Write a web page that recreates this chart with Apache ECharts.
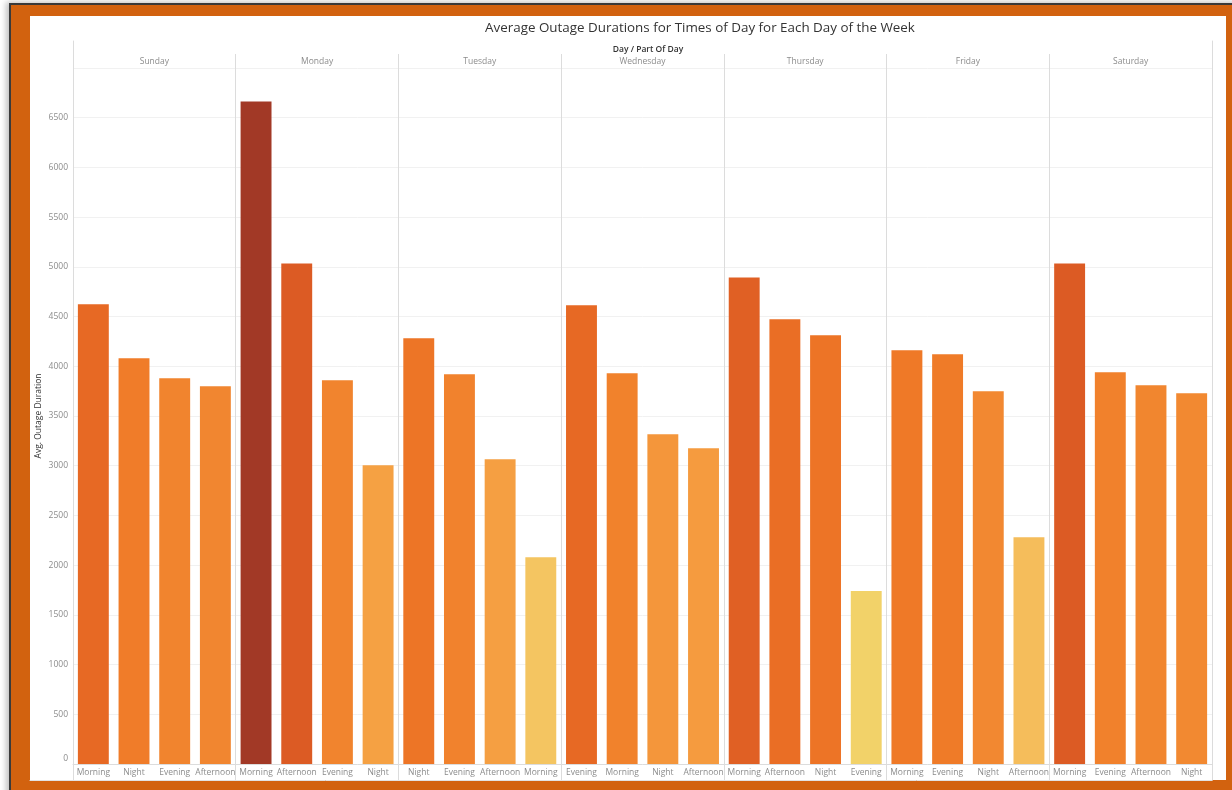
<!DOCTYPE html>
<html>
<head>
<meta charset="utf-8">
<script src="https://cdn.jsdelivr.net/npm/echarts@6/dist/echarts.min.js"></script>
<style>
  html, body { margin: 0; padding: 0; width: 1232px; height: 790px; overflow: hidden; background: #ffffff; }
  #frame { position: absolute; left: 9px; top: 3px; width: 1240px; height: 800px;
           background: #d2620f; border-top: 2px solid #3a3a3a; border-left: 2px solid #3a3a3a;
           box-shadow: -3px -1px 6px rgba(0,0,0,0.25); box-sizing: border-box; }
  #panel { position: absolute; left: 30px; top: 16px; width: 1196px; height: 764px; background: #ffffff; }
  #chart { position: absolute; left: 0; top: 0; width: 1232px; height: 790px; }
</style>
</head>
<body>
<div id="frame"></div>
<div id="panel"></div>
<div id="chart"></div>
<script>
// Days of the week (column panels)
const days = ['Sunday', 'Monday', 'Tuesday', 'Wednesday', 'Thursday', 'Friday', 'Saturday'];

// Parts of day inside each panel, sorted by average duration (descending)
const sundayParts    = ['Morning', 'Night', 'Evening', 'Afternoon'];
const mondayParts    = ['Morning', 'Afternoon', 'Evening', 'Night'];
const tuesdayParts   = ['Night', 'Evening', 'Afternoon', 'Morning'];
const wednesdayParts = ['Evening', 'Morning', 'Night', 'Afternoon'];
const thursdayParts  = ['Morning', 'Afternoon', 'Night', 'Evening'];
const fridayParts    = ['Morning', 'Evening', 'Night', 'Afternoon'];
const saturdayParts  = ['Morning', 'Evening', 'Afternoon', 'Night'];

// Average outage duration for each part of day
const sundayValues    = [4623, 4080, 3879, 3799];
const mondayValues    = [6663, 5035, 3859, 3005];
const tuesdayValues   = [4281, 3920, 3065, 2080];
const wednesdayValues = [4613, 3930, 3317, 3176];
const thursdayValues  = [4894, 4472, 4312, 1739];
const fridayValues    = [4161, 4121, 3749, 2281];
const saturdayValues  = [5035, 3940, 3809, 3729];

// Value axis ticks
const yMin = 0, yMax = 7000, yStep = 500;

const partsByDay  = [sundayParts, mondayParts, tuesdayParts, wednesdayParts, thursdayParts, fridayParts, saturdayParts];
const valuesByDay = [sundayValues, mondayValues, tuesdayValues, wednesdayValues, thursdayValues, fridayValues, saturdayValues];

const categories = [];
const barData = [];
partsByDay.forEach((parts, d) => {
  parts.forEach((p, i) => {
    categories.push(days[d] + '|' + p);
    barData.push(valuesByDay[d][i]);
  });
});

const FONT = '"Open Sans", "Noto Sans", sans-serif';
const LIGHT = '#8c8c8c';
const LINE = '#dcdcdc';

const chart = echarts.init(document.getElementById('chart'), null, { renderer: 'canvas' });

chart.setOption({
  animation: false,
  backgroundColor: 'transparent',
  title: [
    {
      text: 'Average Outage Durations for Times of Day for Each Day of the Week',
      left: 695, top: 17, textAlign: 'center',
      textStyle: { fontFamily: FONT, fontSize: 13.4, fontWeight: 500, color: '#333333' }
    },
    {
      text: 'Day / Part Of Day',
      left: 643, top: 40, textAlign: 'center',
      textStyle: { fontFamily: FONT, fontSize: 8.5, fontWeight: 600, color: '#333333' }
    }
  ],
  visualMap: {
    show: false,
    type: 'continuous',
    seriesIndex: 0,
    dimension: 1,
    min: 1700,
    max: 6700,
    inRange: {
      color: ['#f2d46a', '#f5c05e', '#f5ab4c', '#f59a3e', '#f28a32', '#ef7826',
              '#e56624', '#d85624', '#c84d25', '#b54326', '#a13826']
    }
  },
  grid: [
    // main plot
    { left: 73, right: 20, top: 68, bottom: 26 },
    // day panels with their dividers
    { left: 73, right: 20, top: 54, bottom: 10 },
    // outer frame of the table
    { left: 73, right: 20, top: 41, bottom: 10 },
    // header rule running across the whole panel
    { left: 30, right: 20, top: 68, bottom: 10 }
  ],
  xAxis: [
    {
      gridIndex: 0,
      type: 'category',
      data: categories,
      axisLine: { show: true, lineStyle: { color: LINE } },
      axisTick: { show: false },
      axisLabel: {
        interval: 0, margin: 4,
        fontFamily: FONT, fontSize: 8.5, color: LIGHT,
        formatter: v => v.split('|')[1]
      },
      splitLine: { show: false }
    },
    {
      gridIndex: 1,
      type: 'category',
      position: 'top',
      data: days,
      axisLine: { show: false },
      axisTick: { show: false },
      axisLabel: { inside: true, margin: 3, fontFamily: FONT, fontSize: 8.5, color: LIGHT },
      splitLine: { show: true, lineStyle: { color: LINE, width: 1 } }
    },
    {
      gridIndex: 2,
      type: 'category',
      data: days,
      show: false
    },
    {
      gridIndex: 3,
      type: 'value',
      position: 'top',
      axisLine: { show: true, lineStyle: { color: '#e2e2e2' } },
      axisTick: { show: false },
      axisLabel: { show: false },
      splitLine: { show: false }
    }
  ],
  yAxis: [
    {
      gridIndex: 0,
      type: 'value',
      min: yMin, max: yMax, interval: yStep,
      name: 'Avg. Outage Duration',
      nameLocation: 'middle',
      nameGap: 30,
      nameMoveOverlap: false,
      nameTextStyle: { fontFamily: FONT, fontSize: 8.5, color: '#333333' },
      axisLine: { show: false },
      axisTick: { show: false },
      axisLabel: {
        margin: 5, fontFamily: FONT, fontSize: 8.5, color: LIGHT,
        showMaxLabel: false,
        formatter: v => (v === 0 ? '{z|0}' : String(v)),
        rich: { z: { fontFamily: FONT, fontSize: 8.5, color: LIGHT, padding: [0, 0, 10, 0] } }
      },
      splitLine: { show: true, lineStyle: { color: '#f1f1f1' } }
    },
    {
      gridIndex: 1, type: 'value', show: false
    },
    {
      gridIndex: 2, type: 'value', position: 'left',
      axisLine: { show: true, lineStyle: { color: LINE } },
      axisTick: { show: false }, axisLabel: { show: false }, splitLine: { show: false }
    },
    {
      gridIndex: 2, type: 'value', position: 'right',
      axisLine: { show: true, lineStyle: { color: LINE } },
      axisTick: { show: false }, axisLabel: { show: false }, splitLine: { show: false }
    },
    {
      gridIndex: 3, type: 'value', show: false
    }
  ],
  series: [
    {
      type: 'bar',
      xAxisIndex: 0,
      yAxisIndex: 0,
      data: barData,
      barCategoryGap: '24%'
    }
  ]
});
</script>
</body>
</html>
